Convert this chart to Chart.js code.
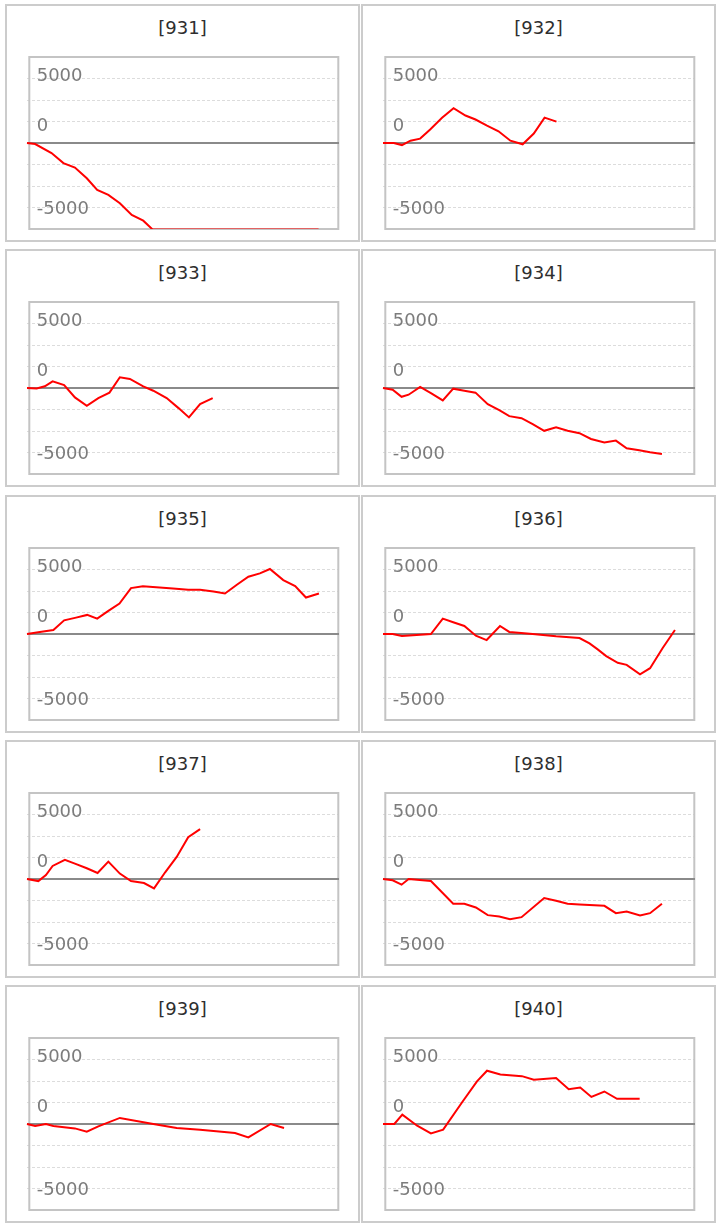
<!DOCTYPE html>
<html>
<head>
<meta charset="utf-8">
<script src="https://cdn.jsdelivr.net/npm/chart.js@4.4.0/dist/chart.umd.min.js"></script>
<style>
  body { margin: 0; background: #fff; }
  #panels { position: relative; width: 722px; height: 1228px; }
  .panel {
    position: absolute;
    width: 355px;
    height: 238px;
    box-sizing: border-box;
    border: 2px solid #cccccc;
    background: #fff;
  }
  .panel .title {
    position: absolute;
    left: 0;
    right: 0;
    top: 11px;
    text-align: center;
    font: 18px "DejaVu Sans", sans-serif;
    line-height: 22px;
    color: #2e2e2e;
  }
  .panel canvas { position: absolute; left: 0; top: 0; }
</style>
</head>
<body>
<div id="panels"></div>
<script>
const panelIds = ['931', '932', '933', '934', '935', '936', '937', '938', '939', '940'];

// x = trading day offset, y = running result
const days931 = [0, 2.2, 6.6, 9.8, 12.9, 16.1, 18.9, 21.9, 25.0, 28.2, 31.3, 33.8, 78.5];
const pnl931 = [0, -80, -780, -1560, -1900, -2730, -3630, -4020, -4670, -5580, -6020, -6700, -6700];

const days932 = [0, 2.9, 5.1, 7.4, 10.0, 12.7, 15.9, 19.0, 22.2, 24.9, 28.0, 31.1, 34.3, 37.6, 40.6, 43.5, 46.7];
const pnl932 = [0, 0, -160, 180, 340, 1040, 1950, 2700, 2130, 1820, 1350, 910, 180, -100, 730, 1970, 1660];

const days933 = [0, 2.6, 4.8, 6.9, 10.0, 12.9, 16.1, 19.2, 22.2, 25.0, 27.7, 31.3, 34.0, 37.6, 40.8, 43.6, 46.6, 50.0];
const pnl933 = [0, -30, 130, 520, 230, -730, -1380, -780, -360, 830, 700, 130, -210, -780, -1560, -2280, -1250, -780];

const days934 = [0, 2.6, 5.0, 6.9, 10.0, 12.9, 16.1, 18.9, 21.9, 24.9, 28.2, 31.3, 34.0, 37.3, 40.3, 43.4, 46.6, 49.7, 52.9, 56.0, 59.6, 62.7, 65.6, 69.0, 71.9, 75.1];
const pnl934 = [0, -130, -680, -520, 80, -390, -960, -50, -210, -360, -1250, -1710, -2180, -2340, -2800, -3320, -3040, -3320, -3500, -3950, -4230, -4080, -4670, -4830, -4980, -5110];

const days935 = [0, 3.9, 7.1, 10.0, 13.2, 16.2, 18.9, 21.9, 24.9, 28.0, 31.2, 39.3, 43.4, 46.6, 50.2, 53.3, 56.5, 59.6, 62.7, 65.4, 69.0, 72.2, 75.1, 78.6];
const pnl935 = [0, 180, 310, 1060, 1270, 1480, 1190, 1790, 2360, 3560, 3710, 3530, 3430, 3430, 3300, 3140, 3820, 4440, 4700, 5040, 4180, 3710, 2830, 3140];

const days936 = [0, 2.6, 5.1, 12.9, 16.1, 18.9, 21.9, 25.0, 27.9, 31.5, 34.0, 37.2, 40.3, 46.6, 52.9, 55.6, 57.8, 60.1, 63.2, 65.6, 69.2, 71.9, 75.3, 78.6];
const pnl936 = [0, 0, -160, 0, 1190, 910, 620, -130, -470, 620, 160, 80, 0, -180, -310, -730, -1190, -1710, -2230, -2390, -3120, -2650, -1090, 310];

const days937 = [0, 3.05, 5.1, 6.9, 10.2, 12.9, 16.1, 19.0, 21.9, 25.0, 28.0, 31.5, 34.2, 37.2, 40.3, 43.4, 46.6];
const pnl937 = [0, -160, 310, 1010, 1480, 1190, 830, 470, 1350, 420, -160, -310, -730, 520, 1710, 3240, 3870];

const days938 = [0, 2.6, 5.0, 6.9, 12.9, 18.9, 21.9, 25.0, 28.2, 31.3, 34.2, 37.3, 43.4, 46.6, 49.7, 52.9, 59.6, 62.7, 65.6, 69.2, 71.9, 75.1];
const pnl938 = [0, -100, -440, 0, -160, -1920, -1920, -2210, -2800, -2910, -3120, -2960, -1480, -1690, -1920, -1970, -2080, -2650, -2520, -2830, -2650, -1920];

const days939 = [0, 2.2, 5.1, 7.1, 12.9, 16.1, 19.2, 25.0, 34.0, 40.3, 46.6, 56.0, 59.6, 65.6, 69.2];
const pnl939 = [0, -160, 0, -160, -340, -600, -180, 470, 0, -310, -440, -700, -1040, 0, -310];

const days940 = [0, 3.05, 5.2, 9.2, 12.9, 16.2, 21.3, 25.3, 28.0, 31.6, 37.4, 40.6, 46.6, 50.0, 53.1, 56.1, 59.6, 63.0, 69.1];
const pnl940 = [0, 0, 730, -130, -730, -440, 1690, 3300, 4130, 3840, 3710, 3430, 3560, 2700, 2830, 2100, 2520, 1950, 1950];

const yLabelValues = [5000, 0, -5000];
const yLabelTexts = ['5000', '0', '-5000'];
const gridStep = 5000 / 3;
const yMax = 4 * gridStep;
const xMax = 84;

const series = {
  '931': [days931, pnl931], '932': [days932, pnl932],
  '933': [days933, pnl933], '934': [days934, pnl934],
  '935': [days935, pnl935], '936': [days936, pnl936],
  '937': [days937, pnl937], '938': [days938, pnl938],
  '939': [days939, pnl939], '940': [days940, pnl940]
};

const gridValues = [];
for (let k = -4; k <= 4; k++) gridValues.push(k * gridStep);

// frame, zero line and the odd inner axis labels
const framePlugin = {
  id: 'frame',
  beforeDatasetsDraw(chart) {
    const { ctx, chartArea: a } = chart;
    const y = chart.scales.y;
    const labelShift = [-1.7, -17, 2];
    ctx.save();
    ctx.lineWidth = 2;
    ctx.strokeStyle = '#c4c4c4';
    ctx.strokeRect(a.left + 2.3, a.top, a.right - a.left - 3, a.bottom - a.top);

    const y0 = y.getPixelForValue(0);
    ctx.strokeStyle = '#8a8a8a';
    ctx.beginPath();
    ctx.moveTo(a.left, y0);
    ctx.lineTo(a.right, y0);
    ctx.stroke();

    ctx.fillStyle = '#7c7c7c';
    ctx.font = '18px "DejaVu Sans"';
    ctx.textAlign = 'left';
    ctx.textBaseline = 'middle';
    yLabelValues.forEach((v, i) => {
      ctx.fillText(yLabelTexts[i], a.left + 9.7, y.getPixelForValue(v) + labelShift[i]);
    });
    ctx.restore();
  }
};

function buildPanel(id, index) {
  const col = index % 2;
  const row = Math.floor(index / 2);
  const panel = document.createElement('div');
  panel.className = 'panel';
  panel.style.left = (5 + col * 356) + 'px';
  panel.style.top = (4 + Math.round(row * 245.3)) + 'px';

  const title = document.createElement('div');
  title.className = 'title';
  title.textContent = '[' + id + ']';
  panel.appendChild(title);

  const canvas = document.createElement('canvas');
  canvas.width = 351;
  canvas.height = 234;
  panel.appendChild(canvas);
  document.getElementById('panels').appendChild(panel);

  const [days, values] = series[id];
  new Chart(canvas, {
    type: 'line',
    data: {
      datasets: [{
        data: days.map((d, i) => ({ x: d, y: values[i] })),
        borderColor: '#ff0000',
        borderWidth: 2,
        pointRadius: 0,
        tension: 0,
        fill: false,
        clip: { left: 2, top: 0, right: 0, bottom: 0 }
      }]
    },
    options: {
      responsive: false,
      animation: false,
      events: [],
      layout: { padding: { left: 20, right: 19, top: 51, bottom: 11 } },
      plugins: { legend: { display: false }, tooltip: { enabled: false } },
      scales: {
        x: { type: 'linear', min: 0, max: xMax, display: false },
        y: {
          min: -yMax,
          max: yMax,
          afterBuildTicks: scale => {
            scale.ticks = gridValues.map(v => ({ value: v }));
          },
          ticks: { display: false },
          grid: {
            drawTicks: false,
            lineWidth: 1,
            color: c => {
              const v = Math.abs(c.tick ? c.tick.value : 0);
              return (v < 1 || v > yMax - 1) ? 'rgba(0,0,0,0)' : '#dcdcdc';
            }
          },
          border: { display: false, dash: [3, 2] }
        }
      }
    },
    plugins: [framePlugin]
  });
}

window.addEventListener('DOMContentLoaded', () => {
  panelIds.forEach(buildPanel);
});
</script>
</body>
</html>
